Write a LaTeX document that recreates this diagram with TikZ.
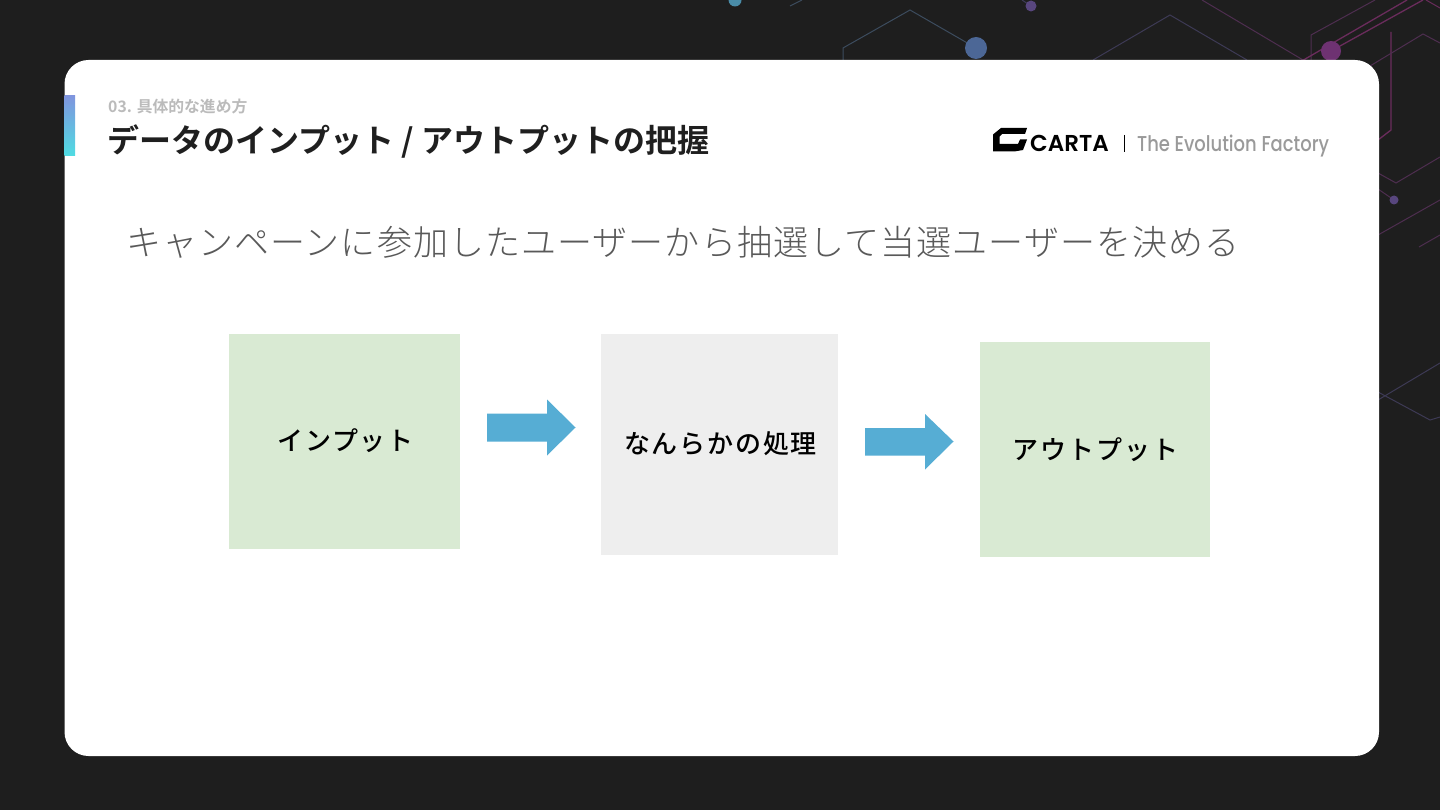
\documentclass[tikz,border=0pt]{standalone}
\usepackage{fontspec}
\setmainfont{Noto Sans CJK JP Medium}
\newfontfamily\jplight{Noto Sans CJK JP Light}
\newfontfamily\jpbold{Noto Sans CJK JP Bold}
\newfontfamily\latn{Poppins Medium}
\newfontfamily\latnb{Poppins SemiBold}
\definecolor{bgdark}{HTML}{1E1E1E}
\definecolor{greenbox}{HTML}{D9EAD3}
\definecolor{greybox}{HTML}{EEEEEE}
\definecolor{arrowblue}{HTML}{56ADD4}
\definecolor{hexblue}{HTML}{3C4C5E}
\definecolor{hexpurple}{HTML}{4E2E50}
\definecolor{hexstrong}{HTML}{6A2C5C}
\definecolor{hexmid}{HTML}{3D3A55}
\definecolor{dotblue}{HTML}{4C6796}
\definecolor{dotpurple}{HTML}{6E3272}
\definecolor{dotteal}{HTML}{4A8CA8}
\definecolor{dotmid}{HTML}{58467E}
\definecolor{titlecol}{HTML}{1F1F1F}
\definecolor{subcol}{HTML}{BBBBBB}
\definecolor{leadcol}{HTML}{595959}
\definecolor{tagcol}{HTML}{9A9A9A}
\definecolor{barTop}{HTML}{7F95DE}
\definecolor{barBot}{HTML}{4FDCE2}
\tikzset{
 x=1pt,y=-1pt,
 boxlabel/.style={font=\fontsize{26}{30}\selectfont,text=black,inner sep=0pt,anchor=center},
 hexline/.style={line width=1pt},
 flowarrow/.style={fill=arrowblue,draw=none}
}
\begin{document}
\begin{tikzpicture}
\useasboundingbox (0,0) rectangle (1440,810);
\fill[bgdark] (0,0) rectangle (1440,810);
% background network
\draw[hexline,hexblue] (843,60) -- (843,48) -- (910,10) -- (976,48);
\draw[hexline,hexblue] (790,6) -- (802,0);
\draw[hexline,hexmid] (1093,60) -- (1170,15) -- (1247,60);
\draw[hexline,hexpurple] (1202,0) -- (1303,60);
\draw[hexline,hexpurple] (1311,60) -- (1311,35) -- (1375,0);
\draw[hexline,hexstrong,line width=1.3pt] (1300,62) -- (1407,0);
\draw[hexline,hexstrong,line width=1.3pt] (1331,51) -- (1423,0);
\draw[hexline,hexstrong] (1426,0) -- (1440,8);
\draw[hexline,hexstrong,line width=1.3pt] (1391,32) -- (1391,130) -- (1378,140);
\draw[hexline,hexpurple] (1370,66) -- (1423,34) -- (1440,43);
\draw[hexline,hexpurple] (1378,173) -- (1396,183) -- (1440,157);
\draw[hexline,hexpurple] (1378,189) -- (1394,200);
\draw[hexline,hexpurple] (1378,235) -- (1440,200);
\draw[hexline,hexpurple] (1419,247) -- (1440,235);
\draw[hexline,hexmid] (1378,392) -- (1430,420) -- (1440,417);
\draw[hexline,hexmid] (1378,400) -- (1440,363);
\draw[hexline,hexmid] (1022,0) -- (1031,6);
\fill[dotblue] (976,48) circle (11);
\fill[dotteal] (735,0) circle (6.5);
\fill[dotmid] (1031,6) circle (5.5);
\fill[dotpurple] (1331,51) circle (10);
\fill[dotmid] (1394,200) circle (4.5);
% card
\fill[white,rounded corners=24] (64.5,60) rectangle (1379,756);
% accent bar
\shade[top color=barTop,bottom color=barBot] (64.5,96) rectangle (75,156);
% header
\node[anchor=base west,inner sep=0,text=subcol,font=\jpbold\fontsize{15.8}{18}\selectfont] (sub) at (108,113) {03. 具体的な進め方};
\node[anchor=base west,inner sep=0,text=titlecol,font=\jpbold\fontsize{32}{36}\selectfont] (title) at (107,152.5) {データのインプット / アウトプットの把握};
% logo
\fill[black] (993,151.5) -- (993,134.5) -- (1001,128) -- (1027,128) -- (1025,134) -- (1002,134) -- (999.5,136.5) -- (999.5,144) -- (1018,144) -- (1020,139.5) -- (1027,139.5) -- (1023,150) -- (1014,151.5) -- cycle;
\node[anchor=base west,inner sep=0,text=black,font=\latnb\fontsize{23}{26}\selectfont] (carta) at (1030,151.5) {CARTA};
\draw[black,line width=0.8pt] (1124,135) -- (1124,152);
\node[anchor=base west,inner sep=0,text=tagcol,font=\latn\fontsize{21.5}{24}\selectfont] (tag) at (1137,152) {\addfontfeature{FakeStretch=0.835}The Evolution Factory};
% lead
\node[anchor=base west,inner sep=0,text=leadcol,font=\jplight\fontsize{35}{40}\selectfont] (lead) at (126,256) {\addfontfeature{LetterSpace=3.1}キャンペーンに参加したユーザーから抽選して当選ユーザーを決める};
% boxes
\fill[greenbox] (229,334) rectangle (460,549);
\fill[greybox] (601,334) rectangle (838,554.5);
\fill[greenbox] (979.5,342) rectangle (1210,556.5);
\node[boxlabel] (in) at (345.5,441) {\addfontfeature{LetterSpace=7}インプット};
\node[boxlabel] (pr) at (720.5,444) {\addfontfeature{LetterSpace=7}なんらかの処理};
\node[boxlabel] (out) at (1095.5,449.5) {\addfontfeature{LetterSpace=7}アウトプット};
% arrows
\fill[flowarrow] (487,413.5) -- (547,413.5) -- (547,399.5) -- (575.5,427.5) -- (547,455.5) -- (547,441.5) -- (487,441.5) -- cycle;
\fill[flowarrow] (865,428) -- (925,428) -- (925,414) -- (953.5,441.5) -- (925,469.5) -- (925,455.5) -- (865,455.5) -- cycle;
\end{tikzpicture}
\end{document}
